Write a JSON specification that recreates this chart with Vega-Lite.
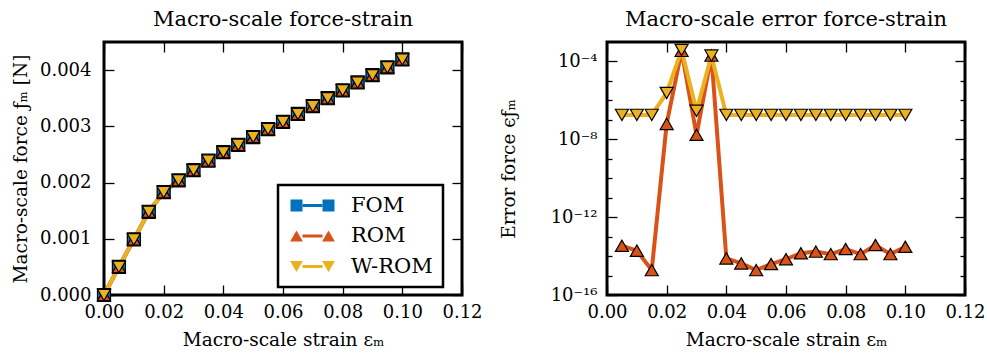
{
  "$schema": "https://vega.github.io/schema/vega-lite/v6.json",
  "padding": {"left": 9, "right": 0, "top": 7, "bottom": 3},
  "background": "white",
  "datasets": {
    "force": [
      {"series": "FOM", "x": 0.000, "y": 0.0},
      {"series": "FOM", "x": 0.005, "y": 0.00050},
      {"series": "FOM", "x": 0.010, "y": 0.00099},
      {"series": "FOM", "x": 0.015, "y": 0.00148},
      {"series": "FOM", "x": 0.020, "y": 0.00183},
      {"series": "FOM", "x": 0.025, "y": 0.00204},
      {"series": "FOM", "x": 0.030, "y": 0.00222},
      {"series": "FOM", "x": 0.035, "y": 0.00239},
      {"series": "FOM", "x": 0.040, "y": 0.00254},
      {"series": "FOM", "x": 0.045, "y": 0.00267},
      {"series": "FOM", "x": 0.050, "y": 0.00281},
      {"series": "FOM", "x": 0.055, "y": 0.00295},
      {"series": "FOM", "x": 0.060, "y": 0.00308},
      {"series": "FOM", "x": 0.065, "y": 0.00322},
      {"series": "FOM", "x": 0.070, "y": 0.00336},
      {"series": "FOM", "x": 0.075, "y": 0.00350},
      {"series": "FOM", "x": 0.080, "y": 0.00364},
      {"series": "FOM", "x": 0.085, "y": 0.00378},
      {"series": "FOM", "x": 0.090, "y": 0.00391},
      {"series": "FOM", "x": 0.095, "y": 0.00405},
      {"series": "FOM", "x": 0.100, "y": 0.00419},
      {"series": "ROM", "x": 0.000, "y": 0.0},
      {"series": "ROM", "x": 0.005, "y": 0.00050},
      {"series": "ROM", "x": 0.010, "y": 0.00099},
      {"series": "ROM", "x": 0.015, "y": 0.00148},
      {"series": "ROM", "x": 0.020, "y": 0.00183},
      {"series": "ROM", "x": 0.025, "y": 0.00204},
      {"series": "ROM", "x": 0.030, "y": 0.00222},
      {"series": "ROM", "x": 0.035, "y": 0.00239},
      {"series": "ROM", "x": 0.040, "y": 0.00254},
      {"series": "ROM", "x": 0.045, "y": 0.00267},
      {"series": "ROM", "x": 0.050, "y": 0.00281},
      {"series": "ROM", "x": 0.055, "y": 0.00295},
      {"series": "ROM", "x": 0.060, "y": 0.00308},
      {"series": "ROM", "x": 0.065, "y": 0.00322},
      {"series": "ROM", "x": 0.070, "y": 0.00336},
      {"series": "ROM", "x": 0.075, "y": 0.00350},
      {"series": "ROM", "x": 0.080, "y": 0.00364},
      {"series": "ROM", "x": 0.085, "y": 0.00378},
      {"series": "ROM", "x": 0.090, "y": 0.00391},
      {"series": "ROM", "x": 0.095, "y": 0.00405},
      {"series": "ROM", "x": 0.100, "y": 0.00419},
      {"series": "W-ROM", "x": 0.000, "y": 0.0},
      {"series": "W-ROM", "x": 0.005, "y": 0.00050},
      {"series": "W-ROM", "x": 0.010, "y": 0.00099},
      {"series": "W-ROM", "x": 0.015, "y": 0.00148},
      {"series": "W-ROM", "x": 0.020, "y": 0.00183},
      {"series": "W-ROM", "x": 0.025, "y": 0.00204},
      {"series": "W-ROM", "x": 0.030, "y": 0.00222},
      {"series": "W-ROM", "x": 0.035, "y": 0.00239},
      {"series": "W-ROM", "x": 0.040, "y": 0.00254},
      {"series": "W-ROM", "x": 0.045, "y": 0.00267},
      {"series": "W-ROM", "x": 0.050, "y": 0.00281},
      {"series": "W-ROM", "x": 0.055, "y": 0.00295},
      {"series": "W-ROM", "x": 0.060, "y": 0.00308},
      {"series": "W-ROM", "x": 0.065, "y": 0.00322},
      {"series": "W-ROM", "x": 0.070, "y": 0.00336},
      {"series": "W-ROM", "x": 0.075, "y": 0.00350},
      {"series": "W-ROM", "x": 0.080, "y": 0.00364},
      {"series": "W-ROM", "x": 0.085, "y": 0.00378},
      {"series": "W-ROM", "x": 0.090, "y": 0.00391},
      {"series": "W-ROM", "x": 0.095, "y": 0.00405},
      {"series": "W-ROM", "x": 0.100, "y": 0.00419}
    ],
    "error": [
      {"series": "ROM", "x": 0.005, "y": 3.4e-14},
      {"series": "ROM", "x": 0.010, "y": 1.9e-14},
      {"series": "ROM", "x": 0.015, "y": 1.9e-15},
      {"series": "ROM", "x": 0.020, "y": 6.2e-8},
      {"series": "ROM", "x": 0.025, "y": 3.5e-4},
      {"series": "ROM", "x": 0.030, "y": 1.7e-8},
      {"series": "ROM", "x": 0.035, "y": 2.0e-4},
      {"series": "ROM", "x": 0.040, "y": 7.6e-15},
      {"series": "ROM", "x": 0.045, "y": 4.2e-15},
      {"series": "ROM", "x": 0.050, "y": 1.9e-15},
      {"series": "ROM", "x": 0.055, "y": 3.9e-15},
      {"series": "ROM", "x": 0.060, "y": 6.9e-15},
      {"series": "ROM", "x": 0.065, "y": 1.4e-14},
      {"series": "ROM", "x": 0.070, "y": 1.7e-14},
      {"series": "ROM", "x": 0.075, "y": 1.26e-14},
      {"series": "ROM", "x": 0.080, "y": 2.3e-14},
      {"series": "ROM", "x": 0.085, "y": 1.26e-14},
      {"series": "ROM", "x": 0.090, "y": 3.7e-14},
      {"series": "ROM", "x": 0.095, "y": 1.26e-14},
      {"series": "ROM", "x": 0.100, "y": 3.0e-14},
      {"series": "W-ROM", "x": 0.005, "y": 1.8e-7},
      {"series": "W-ROM", "x": 0.010, "y": 1.8e-7},
      {"series": "W-ROM", "x": 0.015, "y": 1.8e-7},
      {"series": "W-ROM", "x": 0.020, "y": 2.4e-6},
      {"series": "W-ROM", "x": 0.025, "y": 3.9e-4},
      {"series": "W-ROM", "x": 0.030, "y": 2.9e-7},
      {"series": "W-ROM", "x": 0.035, "y": 2.0e-4},
      {"series": "W-ROM", "x": 0.040, "y": 1.8e-7},
      {"series": "W-ROM", "x": 0.045, "y": 1.8e-7},
      {"series": "W-ROM", "x": 0.050, "y": 1.8e-7},
      {"series": "W-ROM", "x": 0.055, "y": 1.8e-7},
      {"series": "W-ROM", "x": 0.060, "y": 1.8e-7},
      {"series": "W-ROM", "x": 0.065, "y": 1.8e-7},
      {"series": "W-ROM", "x": 0.070, "y": 1.8e-7},
      {"series": "W-ROM", "x": 0.075, "y": 1.8e-7},
      {"series": "W-ROM", "x": 0.080, "y": 1.8e-7},
      {"series": "W-ROM", "x": 0.085, "y": 1.8e-7},
      {"series": "W-ROM", "x": 0.090, "y": 1.8e-7},
      {"series": "W-ROM", "x": 0.095, "y": 1.8e-7},
      {"series": "W-ROM", "x": 0.100, "y": 1.8e-7}
    ]
  },
  "config": {
    "font": "DejaVu Serif",
    "view": {"stroke": "black", "strokeWidth": 3},
    "axis": {
      "domain": false, "grid": false, "ticks": true,
      "tickColor": "black", "tickWidth": 1.3, "tickSize": -10,
      "labelFont": "DejaVu Serif", "labelFontSize": 18, "labelColor": "black",
      "titleFont": "DejaVu Serif", "titleFontSize": 18.5, "titleFontWeight": "normal", "titleColor": "black",
      "labelFlush": false, "labelOverlap": false
    },
    "axisX": {"labelPadding": 18, "titlePadding": 9},
    "axisY": {"labelPadding": 23, "titlePadding": 9},
    "title": {"font": "DejaVu Serif", "fontSize": 21, "fontWeight": "normal", "color": "black", "offset": 11},
    "legend": {"labelFont": "DejaVu Serif", "labelFontSize": 21, "labelColor": "black", "strokeWidth": 2.5}
  },
  "spacing": 13,
  "resolve": {"scale": {"color": "independent", "shape": "independent"}},
  "hconcat": [
    {
      "width": 358,
      "height": 253,
      "title": {"text": "Macro-scale force-strain"},
      "resolve": {"scale": {"color": "independent", "shape": "independent"}},
      "layer": [
        {
          "data": {"name": "force"},
          "mark": {"type": "line", "strokeWidth": 4},
          "encoding": {
            "x": {"field": "x", "type": "quantitative", "scale": {"domain": [0, 0.12], "nice": false},
                  "axis": {"orient": "bottom", "values": [0, 0.02, 0.04, 0.06, 0.08, 0.1, 0.12], "format": ".2f", "title": "Macro-scale strain εₘ"}},
            "y": {"field": "y", "type": "quantitative", "scale": {"domain": [0, 0.0045], "nice": false},
                  "axis": {"orient": "left", "values": [0, 0.001, 0.002, 0.003, 0.004], "format": ".3f", "title": "Macro-scale force ƒₘ [N]"}},
            "color": {"field": "series", "type": "nominal",
                      "scale": {"domain": ["FOM", "ROM", "W-ROM"], "range": ["#0072BD", "#D95319", "#EDB120"]},
                      "legend": {"orient": "none", "legendX": 174, "legendY": 143, "title": null,
                                 "symbolType": "M-1.25,0H1.25M-1.25,0.1H1.25M-1.25,-0.1H1.25",
                                 "symbolSize": 256, "symbolStrokeWidth": 1.5, "labelOpacity": 0,
                                 "padding": 10, "strokeColor": "black", "fillColor": "white",
                                 "labelOffset": 28, "symbolOffset": 14, "rowPadding": 8.5}}
          }
        },
        {
          "data": {"name": "force"},
          "mark": {"type": "point", "filled": true, "opacity": 1, "stroke": "black", "strokeWidth": 1.2, "size": 170},
          "encoding": {
            "x": {"field": "x", "type": "quantitative", "scale": {"domain": [0, 0.12], "nice": false},
                  "axis": {"orient": "top", "values": [0, 0.02, 0.04, 0.06, 0.08, 0.1, 0.12], "labels": false, "title": null}},
            "y": {"field": "y", "type": "quantitative", "scale": {"domain": [0, 0.0045], "nice": false},
                  "axis": {"orient": "right", "values": [0, 0.001, 0.002, 0.003, 0.004], "labels": false, "title": null}},
            "color": {"field": "series", "type": "nominal",
                      "scale": {"domain": ["FOM", "ROM", "W-ROM"], "range": ["#0072BD", "#D95319", "#EDB120"]}, "legend": null},
            "shape": {"field": "series", "type": "nominal",
                      "scale": {"domain": ["FOM", "ROM", "W-ROM"], "range": ["square", "triangle-up", "triangle-down"]}, "legend": null}
          }
        },
        {
          "data": {"name": "force"},
          "transform": [{"filter": "datum.x >= 0.1"}],
          "mark": {"type": "point", "filled": true, "opacity": 1, "stroke": "black", "strokeWidth": 1.5, "size": 0},
          "encoding": {
            "x": {"field": "x", "type": "quantitative", "axis": null},
            "y": {"field": "y", "type": "quantitative", "axis": null},
            "color": {"field": "series", "type": "nominal",
                      "scale": {"domain": ["FOM", "ROM", "W-ROM"], "range": ["#0072BD", "#D95319", "#EDB120"]},
                      "legend": {"orient": "none", "legendX": 174, "legendY": 143, "title": null,
                                 "symbolSize": 256, "symbolStrokeWidth": 1.5, "symbolOpacity": 1, "symbolStrokeColor": "black",
                                 "padding": 10, "labelOffset": 28, "symbolOffset": 14, "rowPadding": 8.5}},
            "shape": {"field": "series", "type": "nominal",
                      "scale": {"domain": ["FOM", "ROM", "W-ROM"],
                                "range": ["M-2.75,-0.75H-1.25V0.75H-2.75Z M1.25,-0.75H2.75V0.75H1.25Z",
                                          "M-2.8,0.69L-2,-0.69L-1.2,0.69Z M1.2,0.69L2,-0.69L2.8,0.69Z",
                                          "M-2.8,-0.69L-2,0.69L-1.2,-0.69Z M1.2,-0.69L2,0.69L2.8,-0.69Z"]},
                      "legend": {"orient": "none", "legendX": 174, "legendY": 143, "title": null,
                                 "symbolSize": 256, "symbolStrokeWidth": 1.5, "symbolOpacity": 1, "symbolStrokeColor": "black",
                                 "padding": 10, "labelOffset": 28, "symbolOffset": 14, "rowPadding": 8.5}}
          }
        }
      ]
    },
    {
      "width": 358,
      "height": 253,
      "title": {"text": "Macro-scale error force-strain"},
      "data": {"name": "error"},
      "layer": [
        {
          "mark": {"type": "line", "strokeWidth": 4},
          "encoding": {
            "x": {"field": "x", "type": "quantitative", "scale": {"domain": [0, 0.12], "nice": false},
                  "axis": {"orient": "bottom", "values": [0, 0.02, 0.04, 0.06, 0.08, 0.1, 0.12], "format": ".2f", "title": "Macro-scale strain εₘ"}},
            "y": {"field": "y", "type": "quantitative", "scale": {"type": "log", "domain": [1e-16, 1e-3], "nice": false},
                  "axis": {"orient": "left", "values": [1e-16, 1e-12, 1e-8, 1e-4], "labelPadding": 20, "titlePadding": 32,
                           "labelExpr": "round(log(datum.value)/LN10) == -4 ? '10⁻⁴' : round(log(datum.value)/LN10) == -8 ? '10⁻⁸' : round(log(datum.value)/LN10) == -12 ? '10⁻¹²' : '10⁻¹⁶'",
                           "title": "Error force ϵƒₘ"}},
            "color": {"field": "series", "type": "nominal",
                      "scale": {"domain": ["ROM", "W-ROM"], "range": ["#D95319", "#EDB120"]}, "legend": null}
          }
        },
        {
          "mark": {"type": "point", "filled": true, "opacity": 1, "stroke": "black", "strokeWidth": 1.2, "size": 170},
          "encoding": {
            "x": {"field": "x", "type": "quantitative", "scale": {"domain": [0, 0.12], "nice": false},
                  "axis": {"orient": "top", "values": [0, 0.02, 0.04, 0.06, 0.08, 0.1, 0.12], "labels": false, "title": null}},
            "y": {"field": "y", "type": "quantitative", "scale": {"type": "log", "domain": [1e-16, 1e-3], "nice": false},
                  "axis": {"orient": "right", "values": [1e-16, 1e-12, 1e-8, 1e-4], "labels": false, "title": null}},
            "color": {"field": "series", "type": "nominal",
                      "scale": {"domain": ["ROM", "W-ROM"], "range": ["#D95319", "#EDB120"]}, "legend": null},
            "shape": {"field": "series", "type": "nominal",
                      "scale": {"domain": ["ROM", "W-ROM"], "range": ["triangle-up", "triangle-down"]}, "legend": null}
          }
        },
        {
          "mark": {"type": "point", "opacity": 0, "size": 0},
          "encoding": {
            "x": {"field": "x", "type": "quantitative", "axis": null},
            "y": {"field": "y", "type": "quantitative",
                  "axis": {"orient": "left", "values": [1e-15, 1e-14, 1e-13, 1e-11, 1e-10, 1e-9, 1e-7, 1e-6, 1e-5], "labels": false, "title": null, "tickSize": -5}}
          }
        },
        {
          "mark": {"type": "point", "opacity": 0, "size": 0},
          "encoding": {
            "x": {"field": "x", "type": "quantitative", "axis": null},
            "y": {"field": "y", "type": "quantitative",
                  "axis": {"orient": "right", "values": [1e-15, 1e-14, 1e-13, 1e-11, 1e-10, 1e-9, 1e-7, 1e-6, 1e-5], "labels": false, "title": null, "tickSize": -5}}
          }
        }
      ]
    }
  ]
}
